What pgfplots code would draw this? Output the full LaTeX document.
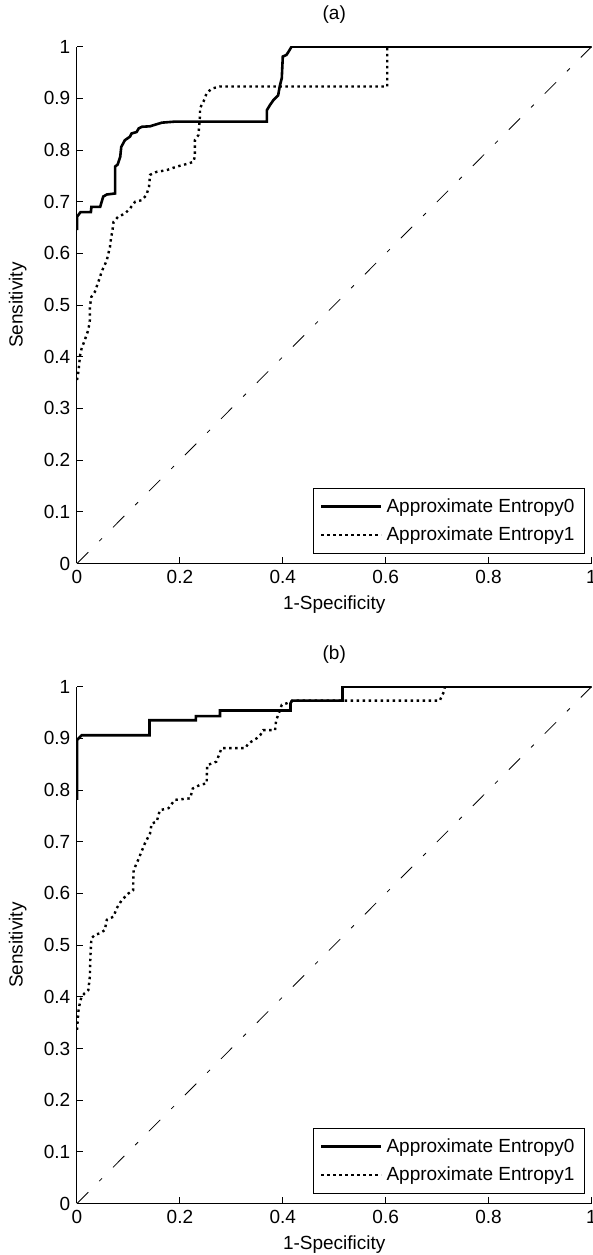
\documentclass[border=0pt]{standalone}
\usepackage{fontspec}
\setmainfont{Liberation Sans}
\usepackage{pgfplots}
\pgfplotsset{compat=1.18}

\pgfplotsset{
  rocaxis/.style={
    scale only axis,
    width=257.25pt, height=258.4pt,
    xmin=0, xmax=1, ymin=0, ymax=1,
    axis x line=bottom, axis y line=left,
    axis line style={-, black, line width=0.5pt},
    xtick={0,0.2,0.4,0.6,0.8,1},
    ytick={0,0.1,0.2,0.3,0.4,0.5,0.6,0.7,0.8,0.9,1},
    tick align=inside, major tick length=3pt,
    tick style={black, line width=0.5pt},
    /pgf/number format/assume math mode=true,
    xlabel={1-Specificity}, ylabel={Sensitivity},
    xlabel style={at={(0.5,-0.08)}, anchor=center},
    ylabel style={at={(-0.115,0.5)}, anchor=center},
    title style={at={(0.5,1.038)}, anchor=center},
    legend cell align=left,
    legend style={at={(1,0)}, anchor=south east, xshift=-3.25pt, yshift=4.75pt,
      draw=black, line width=0.5pt, inner xsep=3pt, inner ysep=3pt, row sep=2pt},
    legend image code/.code={\draw[##1] (0pt,0pt) -- (30pt,0pt);},
  },
  entropy0/.style={black, line width=1.3pt},
  entropy1/.style={black, line width=1.2pt, dash pattern=on 1.2pt off 1.8pt},
  chance/.style={black, line width=0.4pt, dash pattern=on 8pt off 7.75pt on 2pt off 7.75pt},
}

\begin{document}
\fontsize{9.5}{11.5}\selectfont
\begin{tikzpicture}
\path[use as bounding box] (0,0) rectangle (296.5pt,627.5pt);

% (a)
\begin{axis}[rocaxis, at={(38.5pt,345.75pt)}, anchor=south west, title={(a)}]
\addplot[entropy0] coordinates {
(0,0.645)(0,0.671)(0.007,0.68)(0.027,0.68)(0.028,0.69)(0.045,0.69)(0.048,0.70)
(0.051,0.71)(0.058,0.714)(0.074,0.716)(0.074,0.768)(0.079,0.772)(0.084,0.787)
(0.086,0.806)(0.093,0.819)(0.103,0.826)(0.106,0.832)(0.116,0.835)(0.12,0.842)
(0.126,0.845)(0.142,0.846)(0.155,0.85)(0.165,0.853)(0.19,0.855)(0.369,0.855)
(0.369,0.877)(0.375,0.887)(0.382,0.897)(0.391,0.906)(0.394,0.923)(0.398,0.939)
(0.40,0.981)(0.407,0.984)(0.411,0.99)(0.417,1)(1,1)};
\addlegendentry{Approximate Entropy0}
\addplot[entropy1] coordinates {
(0,0.355)(0.003,0.373)(0.006,0.403)(0.009,0.416)(0.015,0.432)(0.022,0.452)
(0.025,0.471)(0.025,0.497)(0.028,0.516)(0.035,0.526)(0.038,0.535)(0.045,0.555)
(0.048,0.565)(0.054,0.578)(0.058,0.587)(0.061,0.600)(0.064,0.612)(0.066,0.628)
(0.069,0.645)(0.071,0.661)(0.08,0.671)(0.093,0.677)(0.103,0.687)(0.113,0.70)
(0.126,0.703)(0.135,0.713)(0.14,0.729)(0.142,0.752)(0.155,0.758)(0.174,0.761)
(0.194,0.768)(0.213,0.773)(0.226,0.777)(0.229,0.787)(0.229,0.819)(0.236,0.829)
(0.239,0.865)(0.239,0.881)(0.246,0.894)(0.252,0.91)(0.262,0.919)(0.278,0.923)
(0.603,0.923)(0.603,1)(1,1)};
\addlegendentry{Approximate Entropy1}
\addplot[chance, forget plot] coordinates {(0,0)(1,1)};
\end{axis}

% (b)
\begin{axis}[rocaxis, at={(38.5pt,25.75pt)}, anchor=south west, title={(b)}]
\addplot[entropy0] coordinates {
(0,0.781)(0,0.897)(0.006,0.903)(0.009,0.906)(0.141,0.906)(0.141,0.935)
(0.231,0.935)(0.231,0.943)(0.278,0.943)(0.278,0.954)(0.415,0.954)(0.415,0.968)
(0.418,0.973)(0.516,0.973)(0.516,1)(1,1)};
\addlegendentry{Approximate Entropy0}
\addplot[entropy1] coordinates {
(0,0.336)(0.003,0.374)(0.006,0.39)(0.009,0.40)(0.015,0.407)(0.022,0.413)
(0.025,0.439)(0.026,0.477)(0.028,0.513)(0.035,0.52)(0.045,0.523)(0.054,0.529)
(0.058,0.549)(0.071,0.555)(0.077,0.571)(0.087,0.587)(0.1,0.6)(0.109,0.606)
(0.11,0.645)(0.119,0.665)(0.125,0.68)(0.132,0.697)(0.142,0.716)(0.145,0.735)
(0.155,0.739)(0.161,0.761)(0.178,0.765)(0.19,0.781)(0.22,0.784)(0.225,0.803)
(0.239,0.81)(0.252,0.813)(0.253,0.848)(0.271,0.855)(0.281,0.881)(0.327,0.881)
(0.333,0.89)(0.349,0.9)(0.356,0.906)(0.362,0.916)(0.385,0.916)(0.387,0.935)
(0.391,0.945)(0.398,0.965)(0.408,0.968)(0.42,0.973)(0.705,0.973)(0.713,0.99)
(0.715,1)(1,1)};
\addlegendentry{Approximate Entropy1}
\addplot[chance, forget plot] coordinates {(0,0)(1,1)};
\end{axis}
\end{tikzpicture}
\end{document}
